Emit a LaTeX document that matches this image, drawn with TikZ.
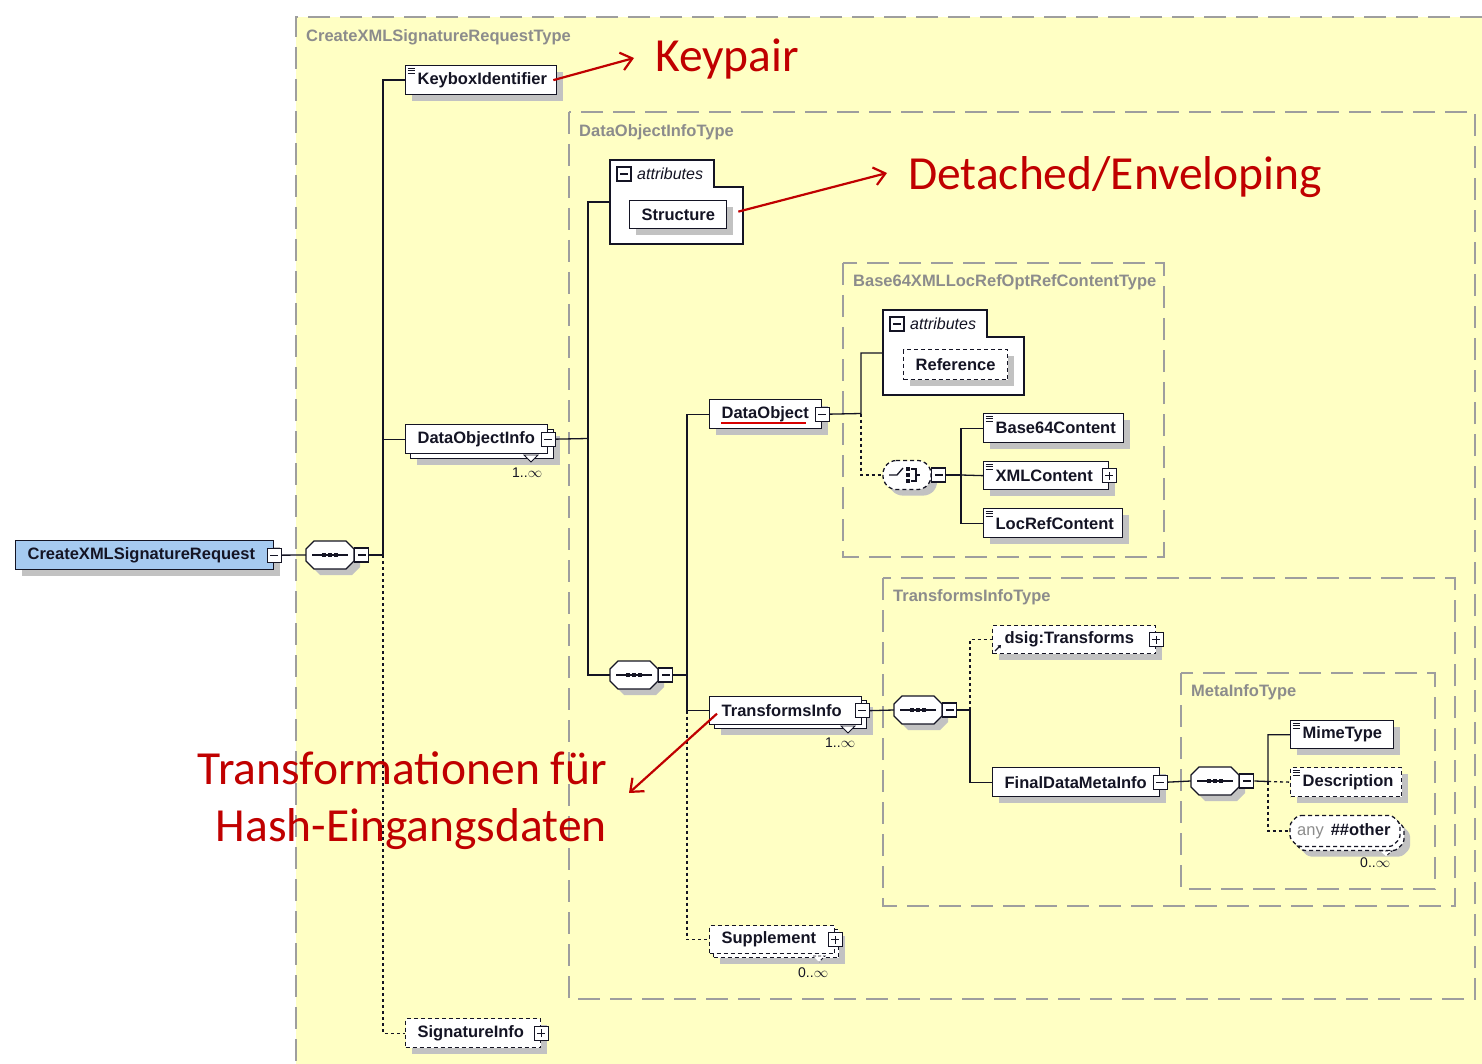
\documentclass[tikz,border=0pt]{standalone}
\usepackage{fontspec}
\usetikzlibrary{shadows,arrows.meta}
\newfontfamily\elemfont{Liberation Sans}
\newfontfamily\annfont{Carlito}
\definecolor{paper}{RGB}{255,255,196}
\definecolor{ink}{RGB}{20,20,36}
\definecolor{shade}{RGB}{194,194,194}
\definecolor{typegray}{RGB}{140,140,140}
\definecolor{framegray}{RGB}{158,158,158}
\definecolor{rootblue}{RGB}{166,202,240}
\definecolor{annred}{RGB}{192,0,0}
\definecolor{spellred}{RGB}{215,0,0}
\tikzset{
  elemfnt/.style={font=\elemfont\bfseries\fontsize{16.5}{18}\selectfont},
  shd/.style={drop shadow={shadow xshift=6pt,shadow yshift=-6pt,fill=shade,opacity=1}},
  elem/.style={elemfnt, draw=ink, fill=white, text=ink, line width=1.3pt,
    inner xsep=12pt, inner ysep=0pt, minimum height=29pt, align=left, anchor=north west},
  optional/.style={dash pattern=on 4pt off 3pt},
  simple/.style={path picture={
    \foreach \kk in {2.5,5,7.5}
      \draw[ink,solid,line width=0.7pt] ([shift={(2pt,-\kk pt)}]path picture bounding box.north west) -- ++(7pt,0pt);}},
  icon/.style={draw=ink, fill=white, solid, line width=1.1pt, minimum size=14pt, inner sep=0pt},
  minus/.style={icon, path picture={\draw[ink,line width=1.1pt]
      ([xshift=3pt]path picture bounding box.west) -- ([xshift=-3pt]path picture bounding box.east);}},
  plus/.style={icon, path picture={\draw[ink,line width=1.1pt]
      ([xshift=3pt]path picture bounding box.west) -- ([xshift=-3pt]path picture bounding box.east)
      ([yshift=3pt]path picture bounding box.south) -- ([yshift=-3pt]path picture bounding box.north);}},
  compslot/.style={inner sep=0pt, minimum width=#1},
  compline/.style={draw=ink, fill=white, line width=1.3pt},
  conn/.style={ink, line width=1.3pt},
  optconn/.style={ink, line width=1.3pt, dash pattern=on 3pt off 3pt},
  typeframe/.style={draw=framegray, line width=1.6pt, dash pattern=on 22pt off 10pt},
  typelabel/.style={elemfnt, text=typegray, anchor=west, inner sep=0pt},
  mult/.style={font=\elemfont\fontsize{14}{16}\selectfont, text=ink, anchor=west, inner sep=0pt},
  attrlabel/.style={font=\elemfont\itshape\fontsize{16}{18}\selectfont, text=ink, anchor=west, inner sep=0pt},
  panel/.style={draw=ink, fill=white, line width=1.3pt},
  ann/.style={font=\annfont\fontsize{47.5}{57}\selectfont, text=annred, inner sep=0pt},
  annarrow/.style={annred, line width=2.2pt, -{Straight Barb[length=11pt,width=18pt,line width=2.2pt]}},
  stackmark/.style={draw=ink, fill=white, line width=0.8pt},
}
% octagonal compositor outline: centre x, centre y, half width, half height, path options
\newcommand\octo[5]{\path[#5] (#1-#3+8,#2-#4) -- (#1+#3-8,#2-#4) -- (#1+#3,#2-#4+8) -- (#1+#3,#2+#4-8)
  -- (#1+#3-8,#2+#4) -- (#1-#3+8,#2+#4) -- (#1-#3,#2+#4-8) -- (#1-#3,#2-#4+8) -- cycle;}
% sequence compositor glyph: a bar with three dots
\newcommand\seqglyph[1]{%
  \draw[conn] ([xshift=-18pt]#1.center) -- ([xshift=18pt]#1.center);
  \foreach \dx in {-6,0,6}{\fill[ink] ([xshift=\dx pt]#1.center) ++(-2.3pt,-2.3pt) rectangle ++(4.6pt,4.6pt);}}
\begin{document}
\begin{tikzpicture}[x=1pt,y=-1pt]
\fill[white] (0,0) rectangle (1482,1064);
\useasboundingbox (0,0) rectangle (1482,1064);

% complex type frames
\fill[paper] (296,17) rectangle (1482,1064);
\draw[typeframe] (1482,17) -- (296,17) -- (296,1064);
\draw[typeframe] (569,112) rectangle (1475,999);
\draw[typeframe] (843,263) rectangle (1164,557);
\draw[typeframe] (883,578) rectangle (1455,906);
\draw[typeframe] (1181,673) rectangle (1435,889);
\node[typelabel] (t1) at (306,37) {CreateXMLSignatureRequestType};
\node[typelabel] (t2) at (579,132) {DataObjectInfoType};
\node[typelabel] (t3) at (853,282) {Base64XMLLocRefOptRefContentType};
\node[typelabel] (t4) at (893,597) {TransformsInfoType};
\node[typelabel] (t5) at (1191,692) {MetaInfoType};

% root element and its sequence
\node[elem, fill=rootblue, text width=234pt, shd] (root) at (15,540) {CreateXMLSignatureRequest};
\node[minus] (rootm) at (root.east) {};
\octo{336}{561}{24}{14}{fill=shade}
\octo{330}{555}{24}{14}{compline}
\node[compslot=48pt, minimum height=28pt] (s1) at (330,555) {};
\seqglyph{s1}
\node[minus, anchor=west] (s1m) at (s1.east) {};

\node[elem, simple, text width=127pt, shd] (kbx) at (405,65) {KeyboxIdentifier};

\node[elem, text width=119pt, shd] (doib) at (410,429) {};
\node[elem, text width=118pt] (doi) at (405,424) {DataObjectInfo};
\node[minus] (doim) at (doi.east) {};
\draw[stackmark] (524,455) -- (538,455) -- (531,462) -- cycle;
\node[mult] (doin) at (512,473) {1..$\infty$};

\node[elem, optional, text width=111pt, shd] (sig) at (405,1018) {SignatureInfo};
\node[plus] (sigp) at (sig.east) {};

% DataObjectInfoType content
\draw[panel] (610,160) -- (714,160) -- (714,187) -- (743,187) -- (743,244) -- (610,244) -- cycle;
\coordinate (ap1) at (610,202);
\node[minus] (ap1m) at (624,174) {};
\node[attrlabel] (ap1t) at (637,174) {attributes};
\node[elem, text width=73pt, minimum height=28pt, shd] (str) at (629,200) {Structure};

\octo{640}{681}{24}{14}{fill=shade}
\octo{634}{675}{24}{14}{compline}
\node[compslot=48pt, minimum height=28pt] (s2) at (634,675) {};
\seqglyph{s2}
\node[minus, anchor=west] (s2m) at (s2.east) {};

\node[elem, text width=88pt, shd] (dob) at (709,399) {DataObject};
\node[minus] (dobm) at (dob.east) {};
\draw[spellred, line width=1.3pt] (721,423) -- (806,423);

% Base64XMLLocRefOptRefContentType content
\draw[panel] (883,310) -- (987,310) -- (987,337) -- (1024,337) -- (1024,395) -- (883,395) -- cycle;
\coordinate (ap2) at (883,353);
\node[minus] (ap2m) at (897,324) {};
\node[attrlabel] (ap2t) at (910,324) {attributes};
\node[elem, optional, text width=80pt, minimum height=30pt, shd] (ref) at (903,349) {Reference};

\octo{913}{481}{24}{14.5}{fill=shade, rounded corners=5pt}
\octo{907}{475}{24}{14.5}{compline, optional, rounded corners=5pt}
\node[compslot=48pt, minimum height=29pt] (ch) at (907,475) {};
\draw[conn] (889,475) -- (897,475) -- (903,468);
\foreach \yy in {469,475,481}{\fill[ink] (905.5,\yy-2) rectangle (909.5,\yy+2);}
\draw[conn, line width=1.1pt] (911,469) -- (916,469) -- (916,481) -- (911,481) (916,475) -- (920,475);
\node[minus, anchor=west] (chm) at (ch.east) {};

\node[elem, simple, text width=116pt, shd] (b64) at (983,413) {Base64Content};
\node[elem, simple, text width=101pt, minimum height=28pt, shd] (xmlc) at (983,461) {XMLContent};
\node[plus] (xmlcp) at (xmlc.east) {};
\node[elem, simple, text width=115pt, shd] (loc) at (983,508) {LocRefContent};

% TransformsInfo branch
\node[elem, text width=128pt, minimum height=28pt, shd] (tib) at (714,700) {};
\node[elem, text width=128pt, minimum height=28pt] (ti) at (709,696) {TransformsInfo};
\node[minus] (tim) at (ti.east) {};
\draw[stackmark] (841,726) -- (855,726) -- (848,733) -- cycle;
\node[mult] (tin) at (825,743) {1..$\infty$};

\node[elem, optional, text width=101pt, minimum height=28pt, shd] (supb) at (713,929) {};
\node[elem, optional, text width=101pt, minimum height=28pt] (sup) at (709,925) {Supplement};
\node[plus] (supp) at (sup.east) {};
\draw[stackmark, densely dashed] (813,956) -- (825,956) -- (819,962);
\node[mult] (supn) at (798,973) {0..$\infty$};

\octo{924}{716}{24}{14}{fill=shade}
\octo{918}{710}{24}{14}{compline}
\node[compslot=48pt, minimum height=28pt] (s3) at (918,710) {};
\seqglyph{s3}
\node[minus, anchor=west] (s3m) at (s3.east) {};

\node[elem, optional, text width=139pt, minimum height=28pt, shd] (dsig) at (992,625) {dsig:Transforms};
\node[plus] (dsigp) at (dsig.east) {};
\draw[ink, line width=1.3pt, -{Triangle[length=3pt,width=4pt]}] (995,651) -- (1001,645);

\node[elem, text width=143pt, shd] (fdmi) at (992,767) {FinalDataMetaInfo};
\node[minus] (fdmim) at (fdmi.east) {};

% MetaInfoType content
\octo{1221}{787}{24}{14}{fill=shade}
\octo{1215}{781}{24}{14}{compline}
\node[compslot=48pt, minimum height=28pt] (s4) at (1215,781) {};
\seqglyph{s4}
\node[minus, anchor=west] (s4m) at (s4.east) {};

\node[elem, simple, text width=79pt, minimum height=28pt, shd] (mime) at (1290,720) {MimeType};
\node[elem, simple, optional, text width=87pt, shd] (desc) at (1290,767) {Description};
\octo{1355}{841}{55}{15.5}{fill=shade, rounded corners=3pt}
\octo{1349}{835}{55}{15.5}{compline, optional, rounded corners=3pt}
\octo{1345}{831}{55}{15.5}{compline, optional, rounded corners=3pt}
\node[compslot=110pt, minimum height=31pt] (anyo) at (1345,831) {};
\node[elemfnt, anchor=west, inner sep=0pt, text=ink] (anyt) at (1297,831) {\textcolor{typegray}{\mdseries any}\hspace{7pt}\#\#other};
\draw[stackmark, densely dashed] (1380,851) -- (1392,851) -- (1386,856);
\node[mult] (anyn) at (1360,863) {0..$\infty$};

% connectors
\draw[conn] (rootm.east) -- (s1.west);
\coordinate (j1) at (383,555);
\draw[conn] (s1m.east) -- (j1) |- (kbx.west);
\draw[conn] (j1) |- (doi.west);
\draw[optconn] (j1) |- (sig.west);

\coordinate (j2) at (588,438.5);
\draw[conn] (doim.east) -- (j2);
\draw[conn] (ap1) -| (j2) |- (s2.west);

\coordinate (j3) at (687,675);
\draw[conn] (s2m.east) -- (j3);
\draw[conn] (dob.west) -| (j3) |- (ti.west);
\draw[optconn] (j3 |- ti.west) |- (sup.west);

\coordinate (j4) at (861,413.5);
\draw[conn] (dobm.east) -- (j4) |- (ap2);
\draw[optconn] (j4) |- (ch.west);

\coordinate (j5) at (961,475);
\draw[conn] (chm.east) -- (j5);
\draw[conn] (b64.west) -| (j5) |- (loc.west);
\draw[conn] (j5) -- (xmlc.west);

\draw[conn] (tim.east) -- (s3.west);
\coordinate (j6) at (970,710);
\draw[conn] (s3m.east) -- (j6) |- (fdmi.west);
\draw[optconn] (j6) |- (dsig.west);

\draw[conn] (fdmim.east) -- (s4.west);
\coordinate (j7) at (1268,781.5);
\draw[conn] (s4m.east) -- (j7) |- (mime.west);
\draw[optconn] (j7) -- (desc.west);
\draw[optconn] (j7) |- (anyo.west);

% annotations
\node[ann, anchor=base west] (kp) at (655,72) {Keypair};
\node[ann, anchor=base west] (de) at (908,190) {Detached/Enveloping};
\node[ann, anchor=base east] (tf1) at (607,784) {Transformationen für};
\node[ann, anchor=base east] (tf2) at (607,841) {Hash-Eingangsdaten};
\coordinate (kptip) at (634,58);
\coordinate (detip) at (887,173);
\coordinate (tftip) at (629,793);
\draw[annarrow] ([xshift=-4pt]kbx.east) -- (kptip);
\draw[annarrow] ([shift={(11pt,3pt)}]str.east) -- (detip);
\draw[annarrow] ([shift={(8pt,-3pt)}]ti.west) -- (tftip);
\end{tikzpicture}
\end{document}
